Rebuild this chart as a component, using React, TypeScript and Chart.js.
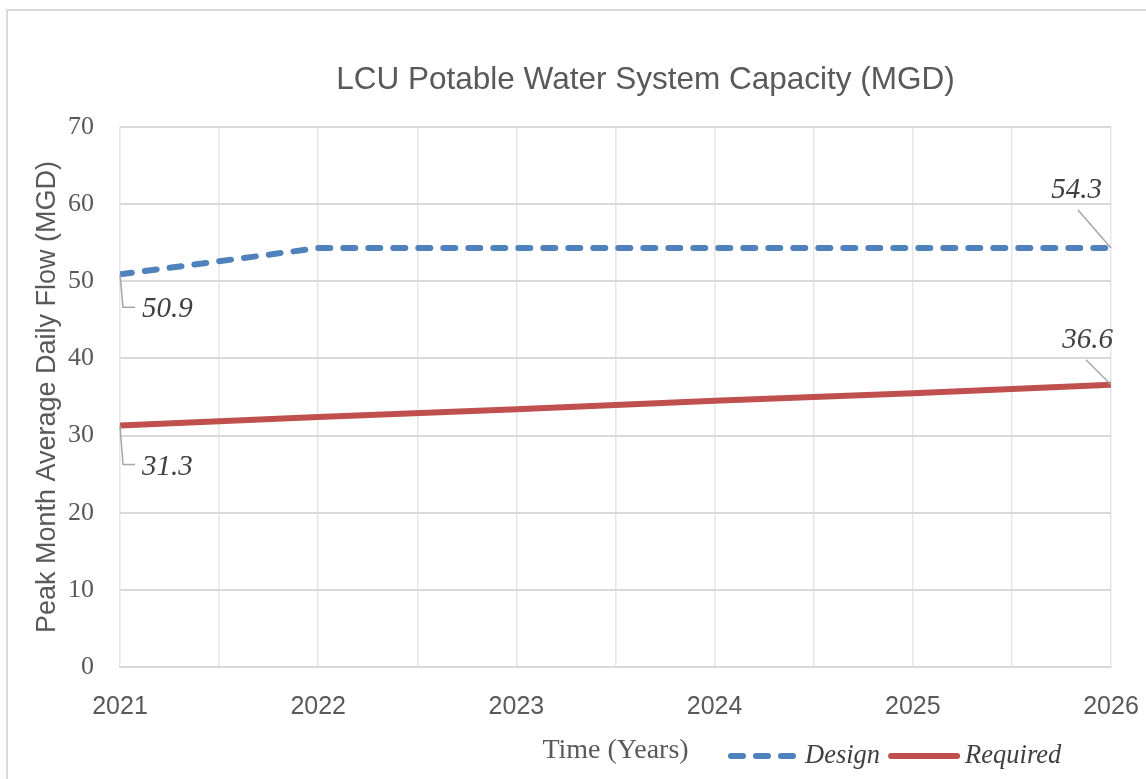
import React, { useEffect, useRef } from 'react';
import { Chart, registerables } from 'chart.js';

Chart.register(...registerables);

// ---- data ----
const years = [2021, 2022, 2023, 2024, 2025, 2026];
const designValues = [50.9, 54.3, 54.3, 54.3, 54.3, 54.3];
const requiredValues = [31.3, 32.4, 33.4, 34.5, 35.5, 36.6];
const seriesNames = ['Design', 'Required'];
const yMin = 0;
const yMax = 70;
const yStep = 10;
const xStep = 0.5;
const chartTitle = 'LCU Potable Water System Capacity (MGD)';
const xTitle = 'Time (Years)';
const yTitle = 'Peak Month Average Daily Flow (MGD)';

// ---- styles ----
const BLUE = '#4F81BD';
const RED = '#C0504D';
const GRAY_TEXT = '#595959';
const LABEL_TEXT = '#404040';
const SANS = '"Liberation Sans", Arial, sans-serif';
const SERIF = '"Liberation Serif", "Times New Roman", serif';

// data-label leader/offset styles (first and last point of each series)
const labelStyles = [
  {
    first: { lead: [[3, 33], [15, 33]], text: [22, 43], align: 'left' },
    last: { lead: [[-33, -38]], text: [-9, -50], align: 'right' },
  },
  {
    first: { lead: [[3, 39], [15, 39]], text: [22, 49], align: 'left' },
    last: { lead: [[-25, -25]], text: [2, -37], align: 'right' },
  },
];

const decorPlugin = {
  id: 'decor',
  afterDatasetsDraw(chart: any) {
    const ctx = chart.ctx;
    ctx.save();
    chart.data.datasets.forEach((ds: any, di: number) => {
      const meta = chart.getDatasetMeta(di);
      const pts = meta.data;
      const st = labelStyles[di];
      const items = [
        { p: pts[0], v: ds.data[0].y, s: st.first },
        { p: pts[pts.length - 1], v: ds.data[ds.data.length - 1].y, s: st.last },
      ];
      items.forEach(({ p, v, s }) => {
        ctx.beginPath();
        ctx.strokeStyle = '#a6a6a6';
        ctx.lineWidth = 1.5;
        ctx.moveTo(p.x, p.y);
        s.lead.forEach(([dx, dy]: number[]) => ctx.lineTo(p.x + dx, p.y + dy));
        ctx.stroke();
        ctx.font = `italic 29px ${SERIF}`;
        ctx.fillStyle = LABEL_TEXT;
        ctx.textAlign = s.align;
        ctx.textBaseline = 'alphabetic';
        ctx.fillText(v.toFixed(1), p.x + s.text[0], p.y + s.text[1]);
      });
    });
    ctx.restore();
  },
  afterDraw(chart: any) {
    const ctx = chart.ctx;
    const area = chart.chartArea;
    ctx.save();
    // title
    ctx.font = `31.5px ${SANS}`;
    ctx.fillStyle = GRAY_TEXT;
    ctx.textAlign = 'center';
    ctx.textBaseline = 'alphabetic';
    ctx.fillText(chartTitle, area.left + (area.right - area.left) / 2 + 30, 89);

    // legend (inline with x-axis title)
    const lineY = 756;
    const baseY = 763;
    let x = 731;
    chart.data.datasets.forEach((ds: any, i: number) => {
      ctx.beginPath();
      ctx.strokeStyle = ds.borderColor;
      ctx.lineWidth = ds.borderWidth;
      ctx.lineCap = 'round';
      ctx.setLineDash(ds.borderDash || []);
      const len = i === 0 ? 62 : 66;
      ctx.moveTo(x, lineY);
      ctx.lineTo(x + len, lineY);
      ctx.stroke();
      ctx.setLineDash([]);
      ctx.font = `italic 26.5px ${SERIF}`;
      ctx.fillStyle = LABEL_TEXT;
      ctx.textAlign = 'left';
      const tx = x + len + (i === 0 ? 12 : 8);
      ctx.fillText(ds.label, tx, baseY);
      x = tx + ctx.measureText(ds.label).width + 11;
    });
    ctx.restore();
  },
};

export default function App() {
  const canvasRef = useRef<HTMLCanvasElement | null>(null);

  useEffect(() => {
    if (!canvasRef.current) return;
    const chart = new Chart(canvasRef.current, {
      type: 'line',
      data: {
        datasets: [
          {
            label: seriesNames[0],
            data: years.map((y, i) => ({ x: y, y: designValues[i] })),
            borderColor: BLUE,
            backgroundColor: BLUE,
            borderWidth: 6,
            borderDash: [12, 13],
            borderCapStyle: 'round',
            pointRadius: 0,
            tension: 0,
          },
          {
            label: seriesNames[1],
            data: years.map((y, i) => ({ x: y, y: requiredValues[i] })),
            borderColor: RED,
            backgroundColor: RED,
            borderWidth: 6,
            borderCapStyle: 'butt',
            pointRadius: 0,
            tension: 0,
          },
        ],
      },
      options: {
        responsive: false,
        animation: false,
        devicePixelRatio: 1,
        layout: { padding: { left: 20, top: 127, right: 35, bottom: 0 } },
        plugins: {
          legend: { display: false },
          title: { display: false },
          tooltip: { enabled: false },
        },
        scales: {
          x: {
            type: 'linear',
            min: years[0],
            max: years[years.length - 1],
            afterFit: (s: any) => {
              s.height = 112;
            },
            ticks: {
              stepSize: xStep,
              autoSkip: false,
              maxRotation: 0,
              padding: 0,
              color: GRAY_TEXT,
              font: { family: SANS, size: 25 },
              callback: (v: any) => (Number.isInteger(v) ? String(v) : ''),
            },
            grid: {
              color: '#e6e6e6',
              lineWidth: 1.5,
              drawTicks: true,
              tickLength: 25,
              tickColor: 'rgba(0,0,0,0)',
            },
            border: { display: true, color: '#d9d9d9', width: 2 },
            title: {
              display: true,
              text: xTitle,
              color: GRAY_TEXT,
              font: { family: SERIF, size: 28 },
              padding: { top: 0, bottom: 12 },
            },
          },
          y: {
            min: yMin,
            max: yMax,
            afterFit: (s: any) => {
              s.width = 100;
            },
            ticks: {
              stepSize: yStep,
              padding: 26,
              color: GRAY_TEXT,
              font: { family: SERIF, size: 26 },
            },
            grid: { color: '#d9d9d9', lineWidth: 2, drawTicks: false },
            border: { display: false },
            title: {
              display: true,
              text: yTitle,
              color: GRAY_TEXT,
              font: { family: SANS, size: 27 },
              padding: { top: 11, bottom: 0 },
            },
          },
        },
      },
      plugins: [decorPlugin],
    } as any);
    return () => chart.destroy();
  }, []);

  return (
    <div
      style={{
        position: 'absolute',
        left: 0,
        top: 0,
        width: 1146,
        height: 779,
        overflow: 'hidden',
        background: '#ffffff',
      }}
    >
      <div
        style={{
          position: 'absolute',
          left: 6,
          top: 9,
          width: 1300,
          height: 900,
          border: '2px solid #d9d9d9',
          boxSizing: 'border-box',
        }}
      />
      <canvas
        ref={canvasRef}
        width={1146}
        height={779}
        style={{ position: 'absolute', left: 0, top: 0, width: 1146, height: 779 }}
      />
    </div>
  );
}
